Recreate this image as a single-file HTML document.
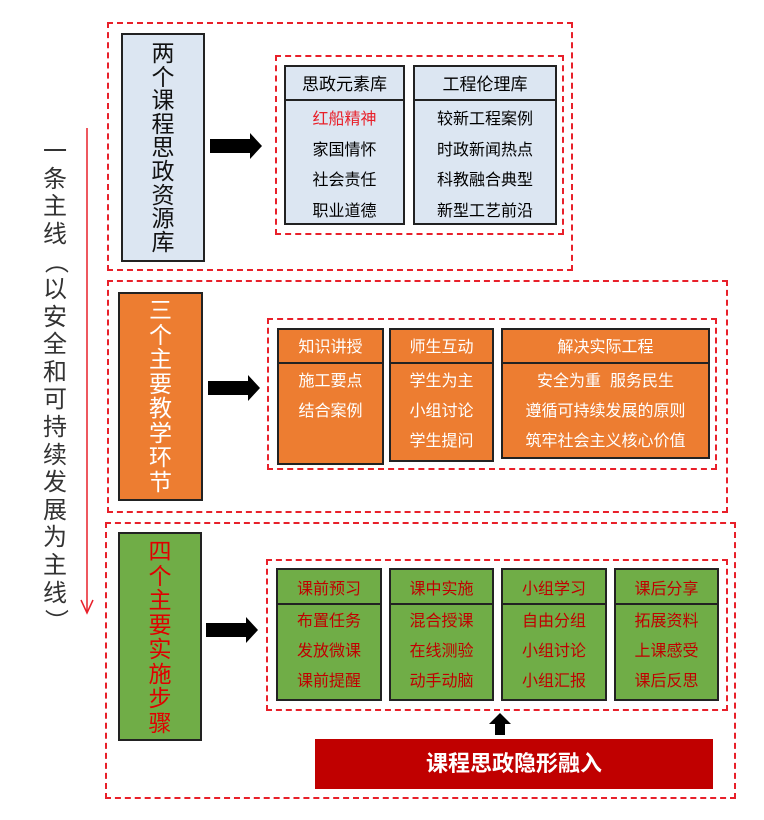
<!DOCTYPE html>
<html><head><meta charset="utf-8"><style>
body{margin:0;width:764px;height:820px;background:#fff;position:relative;overflow:hidden;font-family:"Liberation Sans","Noto Sans CJK SC",sans-serif;}
div{position:absolute;box-sizing:border-box;}
.d{border:2px dashed #e8202a;}
.b{border:2px solid #222;}
.v{text-align:center;font-size:23px;}
.t{text-align:center;font-size:16px;}
.h{left:0;right:0;top:0;border-bottom:2px solid #222;}
</style></head><body>
<!-- main line -->
<div style="left:38px;top:138px;width:34px;font-size:24px;line-height:27.6px;text-align:center;color:#333;">一<br>条<br>主<br>线<br><span style="display:inline-block;transform:rotate(90deg)">（</span><br>以<br>安<br>全<br>和<br>可<br>持<br>续<br>发<br>展<br>为<br>主<br>线<br><span style="display:inline-block;transform:rotate(90deg)">）</span></div>
<svg style="position:absolute;left:0;top:0" width="764" height="820">
<line x1="87" y1="128" x2="87" y2="612" stroke="#e8202a" stroke-width="1.5"/>
<polyline points="81,600 87,613 93,600" fill="none" stroke="#e8202a" stroke-width="1.5"/>
<polygon points="210,139 250,139 250,133 262,146 250,159 250,153 210,153" fill="#000"/>
<polygon points="208,381 248,381 248,375 260,388 248,401 248,395 208,395" fill="#000"/>
<polygon points="206,623 246,623 246,617 258,630 246,643 246,637 206,637" fill="#000"/>
<polygon points="495,735 495,724 489,724 500,713 511,724 505,724 505,735" fill="#000"/>
</svg>
<!-- section 1 -->
<div class="d" style="left:107px;top:22px;width:466px;height:249px;"></div>
<div class="b v" style="left:121px;top:33px;width:84px;height:229px;background:#dce6f2;padding-top:7px;line-height:23.6px;color:#111;">两<br>个<br>课<br>程<br>思<br>政<br>资<br>源<br>库</div>
<div class="d" style="left:275px;top:55px;width:289px;height:180px;"></div>
<div class="b" style="left:284px;top:65px;width:121px;height:160px;background:#dce6f2;">
<div class="h t" style="height:34px;line-height:36px;font-size:17px;">思政元素库</div>
<div class="t" style="left:0;right:0;top:38px;line-height:30.5px;">
<span style="color:#e8202a">红船精神</span><br>家国情怀<br>社会责任<br>职业道德</div></div>
<div class="b" style="left:413px;top:65px;width:144px;height:160px;background:#dce6f2;">
<div class="h t" style="height:34px;line-height:36px;font-size:17px;">工程伦理库</div>
<div class="t" style="left:0;right:0;top:38px;line-height:30.5px;">较新工程案例<br>时政新闻热点<br>科教融合典型<br>新型工艺前沿</div></div>
<!-- section 2 -->
<div class="d" style="left:107px;top:280px;width:621px;height:233px;"></div>
<div class="b v" style="left:118px;top:292px;width:85px;height:209px;background:#ed7d31;color:#fff;padding-top:4px;line-height:24.5px;">三<br>个<br>主<br>要<br>教<br>学<br>环<br>节</div>
<div class="d" style="left:267px;top:318px;width:450px;height:152px;"></div>
<div class="b" style="left:277px;top:328px;width:107px;height:137px;background:#ed7d31;color:#fff;">
<div class="h t" style="height:34px;line-height:36px;">知识讲授</div>
<div class="t" style="left:0;right:0;top:37px;line-height:30px;">施工要点<br>结合案例</div></div>
<div class="b" style="left:389px;top:328px;width:105px;height:134px;background:#ed7d31;color:#fff;">
<div class="h t" style="height:34px;line-height:36px;">师生互动</div>
<div class="t" style="left:0;right:0;top:37px;line-height:30px;">学生为主<br>小组讨论<br>学生提问</div></div>
<div class="b" style="left:501px;top:328px;width:209px;height:131px;background:#ed7d31;color:#fff;">
<div class="h t" style="height:34px;line-height:36px;">解决实际工程</div>
<div class="t" style="left:0;right:0;top:37px;line-height:30px;">安全为重&nbsp;&nbsp;服务民生<br>遵循可持续发展的原则<br>筑牢社会主义核心价值</div></div>
<!-- section 3 -->
<div class="d" style="left:105px;top:522px;width:631px;height:277px;"></div>
<div class="b v" style="left:118px;top:532px;width:84px;height:209px;background:#70ad47;color:#e00000;padding-top:5px;line-height:24.5px;">四<br>个<br>主<br>要<br>实<br>施<br>步<br>骤</div>
<div class="d" style="left:266px;top:559px;width:462px;height:152px;"></div>
<div class="b" style="left:276px;top:568px;width:106px;height:133px;background:#70ad47;color:#c00000;">
<div class="h t" style="height:35px;line-height:40px;">课前预习</div>
<div class="t" style="left:0;right:0;top:37px;line-height:30px;">布置任务<br>发放微课<br>课前提醒</div></div>
<div class="b" style="left:389px;top:568px;width:105px;height:133px;background:#70ad47;color:#c00000;">
<div class="h t" style="height:35px;line-height:40px;">课中实施</div>
<div class="t" style="left:0;right:0;top:37px;line-height:30px;">混合授课<br>在线测验<br>动手动脑</div></div>
<div class="b" style="left:501px;top:568px;width:106px;height:133px;background:#70ad47;color:#c00000;">
<div class="h t" style="height:35px;line-height:40px;">小组学习</div>
<div class="t" style="left:0;right:0;top:37px;line-height:30px;">自由分组<br>小组讨论<br>小组汇报</div></div>
<div class="b" style="left:614px;top:568px;width:105px;height:133px;background:#70ad47;color:#c00000;">
<div class="h t" style="height:35px;line-height:40px;">课后分享</div>
<div class="t" style="left:0;right:0;top:37px;line-height:30px;">拓展资料<br>上课感受<br>课后反思</div></div>
<div style="left:315px;top:739px;width:398px;height:50px;background:#c00000;color:#fff;font-size:22px;font-weight:bold;text-align:center;line-height:50px;">课程思政隐形融入</div>
</body></html>
